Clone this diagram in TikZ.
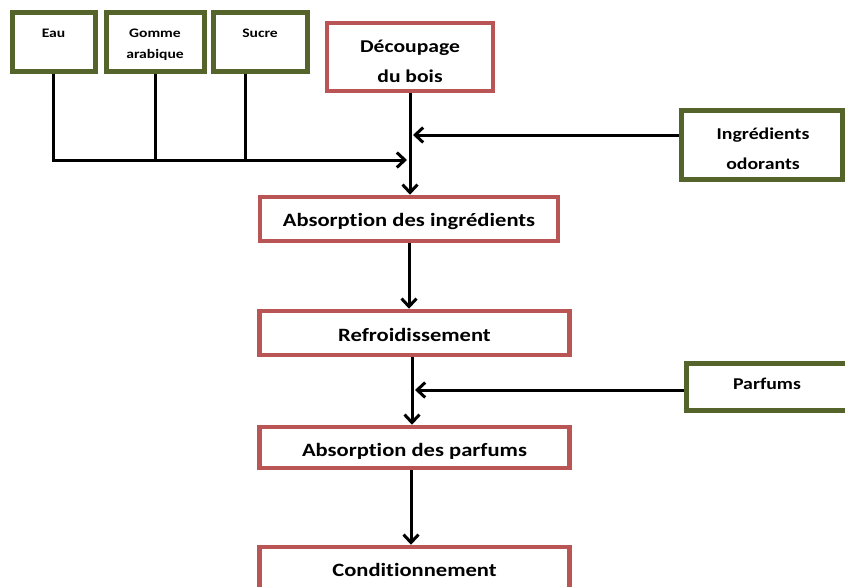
\documentclass[tikz,border=0pt]{standalone}
\usepackage{fontspec}
\setmainfont{Carlito}[FakeStretch=1.2, Ligatures={NoCommon}]
\usetikzlibrary{arrows.meta}
\definecolor{boxred}{RGB}{185,85,85}
\definecolor{boxgreen}{RGB}{84,100,42}
\begin{document}
\begin{tikzpicture}[x=1pt,y=-1pt,
  gbox/.style={draw=boxgreen, line width=5pt, fill=white, inner sep=0pt},
  rbox/.style={draw=boxred, line width=4.5pt, fill=white, inner sep=0pt},
  big/.style={font=\bfseries\fontsize{18.8}{22}\selectfont, align=center, inner sep=0pt},
  mid/.style={font=\bfseries\fontsize{16.5}{30}\selectfont, align=center, inner sep=0pt},
  small/.style={font=\bfseries\fontsize{13}{16}\selectfont, align=center, inner sep=0pt},
  conn/.style={line width=3pt, black},
  arr/.style={conn, -{Straight Barb[length=8pt,width=15pt]}}]
\useasboundingbox (0,0) rectangle (845,586);
% input boxes (green)
\node[gbox, minimum width=83pt, minimum height=58pt] (eau) at (53.5,42) {};
\node[gbox, minimum width=98pt, minimum height=58pt] (gomme) at (155,42) {};
\node[gbox, minimum width=94pt, minimum height=58pt] (sucre) at (260,42) {};
\node[small] (eaut) at (53.5,33) {Eau};
\node[small] (gommet) at (155,45) {Gomme\\[5pt]arabique};
\node[small] (sucret) at (260,33) {Sucre};
\node[gbox, minimum width=161pt, minimum height=69pt] (ingr) at (761.5,144.5) {};
\node[mid] (ingrt) at (763,148.5) {Ingrédients\\odorants};
\node[gbox, minimum width=214pt, minimum height=47pt] (parf) at (793,386.5) {};
\node[mid, font=\bfseries\fontsize{16.5}{20}\selectfont] (parft) at (767,384) {Parfums};
% process boxes (red)
\node[rbox, minimum width=166pt, minimum height=68pt] (dec) at (410,57) {};
\node[big, font=\bfseries\fontsize{18}{30}\selectfont] (dect) at (410,61) {Découpage\\du bois};
\node[rbox, minimum width=298pt, minimum height=44pt] (absing) at (409,219) {};
\node[big] (absingt) at (409,221) {Absorption des ingrédients};
\node[rbox, minimum width=310pt, minimum height=44pt] (refr) at (414.5,333) {};
\node[big] (refrt) at (414.5,335) {Refroidissement};
\node[rbox, minimum width=310pt, minimum height=41pt] (absparf) at (414.5,447.5) {};
\node[big] (absparft) at (414.5,451) {Absorption des parfums};
\node[rbox, minimum width=310pt, minimum height=60pt] (cond) at (414.5,577) {};
\node[big] (condt) at (414.5,570) {Conditionnement};
% junction points
\coordinate (jl) at (407,160);
\coordinate (jr) at (413,135);
\coordinate (m2) at (412,0);
\coordinate (jp) at (415,390);
\coordinate (m3) at (411,0);
% connectors
\draw[arr] (eau.south) |- (jl);
\draw[conn] (gomme.south) -- (gomme.south |- jl);
\draw[conn] ([xshift=-15pt]sucre.south) -- ([xshift=-15pt]sucre.south |- jl);
\draw[arr] (ingr.west |- jr) -- (jr);
\draw[arr] (dec.south) -- (dec.south |- absing.north);
\draw[arr] (absing.south) -- (absing.south |- refr.north);
\draw[arr] (m2 |- refr.south) -- (m2 |- absparf.north);
\draw[arr] (parf.west |- jp) -- (jp);
\draw[arr] (m3 |- absparf.south) -- (m3 |- cond.north);
\end{tikzpicture}
\end{document}
